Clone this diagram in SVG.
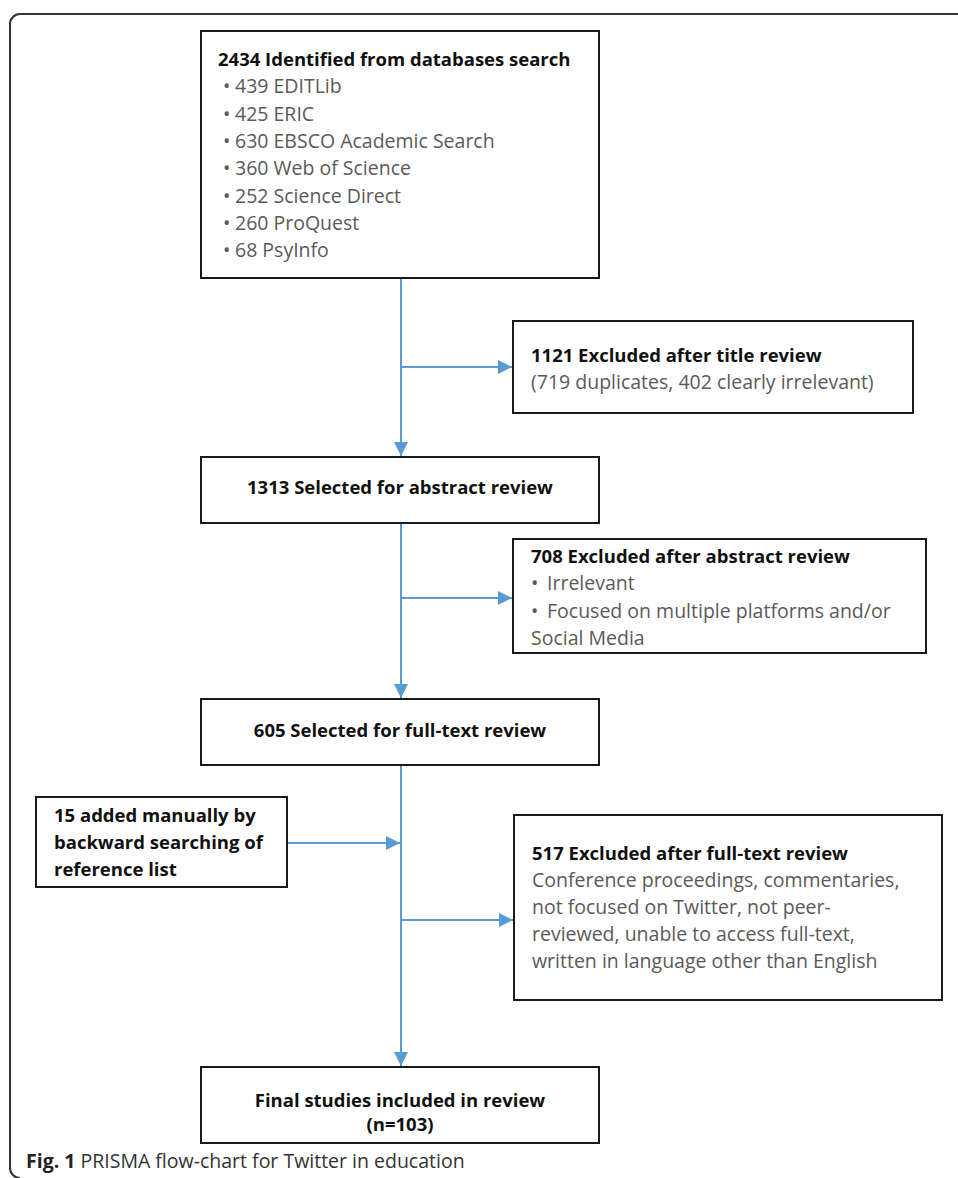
<svg xmlns="http://www.w3.org/2000/svg" width="958" height="1178" viewBox="0 0 958 1178">
<style>
.box{fill:#fff;stroke:#1a1a1a;stroke-width:2}
.b{font-family:"Open Sans","Liberation Sans",sans-serif;font-weight:bold;font-size:18.5px;fill:#111}
.r{font-family:"Open Sans","Liberation Sans",sans-serif;font-size:19.5px;fill:#5a5a5a}
.c{text-anchor:middle}
.con{stroke:#5b9bd5;stroke-width:2;fill:none;marker-end:url(#ah)}
.cap{font-family:"Open Sans","Liberation Sans",sans-serif;font-size:19.5px;fill:#333}
</style>
<defs>
<marker id="ah" markerUnits="userSpaceOnUse" markerWidth="16" markerHeight="14" refX="14" refY="7" orient="auto">
<path d="M0,0 L14,7 L0,14 Z" fill="#5b9bd5"/>
</marker>
</defs>
<rect width="958" height="1178" fill="#fff"/>
<path d="M958 14 H20 A10 10 0 0 0 10 24 V1168 A10 10 0 0 0 20 1178" fill="none" stroke="#333" stroke-width="2"/>

<g id="connectors">
<line class="con" x1="401" y1="278" x2="401" y2="456"/>
<line class="con" x1="401" y1="367" x2="512" y2="367"/>
<line class="con" x1="401" y1="523" x2="401" y2="698"/>
<line class="con" x1="401" y1="598" x2="512" y2="598"/>
<line class="con" x1="401" y1="765" x2="401" y2="1066"/>
<line class="con" x1="287" y1="843" x2="400" y2="843"/>
<line class="con" x1="401" y1="920" x2="513" y2="920"/>
</g>

<g id="n1">
<rect class="box" x="201" y="31" width="398" height="247"/>
<text class="b" x="218" y="66">2434 Identified from databases search</text>
<g class="r">
<text x="223" y="93">•</text><text x="235" y="93">439 EDITLib</text>
<text x="223" y="121">•</text><text x="235" y="121">425 ERIC</text>
<text x="223" y="148">•</text><text x="235" y="148">630 EBSCO Academic Search</text>
<text x="223" y="175">•</text><text x="235" y="175">360 Web of Science</text>
<text x="223" y="203">•</text><text x="235" y="203">252 Science Direct</text>
<text x="223" y="230">•</text><text x="235" y="230">260 ProQuest</text>
<text x="223" y="257">•</text><text x="235" y="257">68 PsyInfo</text>
</g>
</g>

<g id="n2">
<rect class="box" x="513" y="321" width="400" height="92"/>
<text class="b" x="531" y="362">1121 Excluded after title review</text>
<text class="r" x="531" y="389">(719 duplicates, 402 clearly irrelevant)</text>
</g>

<g id="n3">
<rect class="box" x="201" y="457" width="398" height="66"/>
<text class="b c" x="400" y="494">1313 Selected for abstract review</text>
</g>

<g id="n4">
<rect class="box" x="513" y="539" width="413" height="114"/>
<text class="b" x="531" y="563">708 Excluded after abstract review</text>
<g class="r">
<text x="531" y="590">•</text><text x="547" y="590">Irrelevant</text>
<text x="531" y="618">•</text><text x="547" y="618">Focused on multiple platforms and/or</text>
<text x="531" y="645">Social Media</text>
</g>
</g>

<g id="n5">
<rect class="box" x="201" y="699" width="398" height="66"/>
<text class="b c" x="400" y="737">605 Selected for full-text review</text>
</g>

<g id="n6">
<rect class="box" x="36" y="797" width="251" height="90"/>
<text class="b" x="54" y="822">15 added manually by</text>
<text class="b" x="54" y="849">backward searching of</text>
<text class="b" x="54" y="876">reference list</text>
</g>

<g id="n7">
<rect class="box" x="514" y="815" width="428" height="185"/>
<text class="b" x="532" y="860">517 Excluded after full-text review</text>
<g class="r">
<text x="532" y="887">Conference proceedings, commentaries,</text>
<text x="532" y="914">not focused on Twitter, not peer-</text>
<text x="532" y="941">reviewed, unable to access full-text,</text>
<text x="532" y="968">written in language other than English</text>
</g>
</g>

<g id="n8">
<rect class="box" x="201" y="1067" width="398" height="76"/>
<text class="b c" x="400" y="1107">Final studies included in review</text>
<text class="b c" x="400" y="1131">(n=103)</text>
</g>

<text class="cap" x="26" y="1168"><tspan font-weight="bold" fill="#222">Fig. 1</tspan> PRISMA flow-chart for Twitter in education</text>
</svg>
